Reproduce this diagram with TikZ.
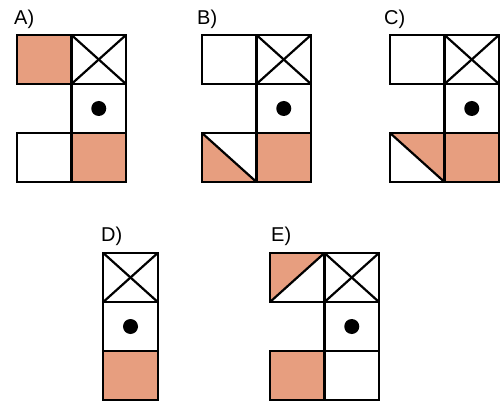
\documentclass[tikz,border=0pt]{standalone}
\usepackage{fontspec}
\setmainfont{Liberation Sans}
\definecolor{salmon}{RGB}{231,158,127}
\begin{document}
\begin{tikzpicture}[
    x=1pt, y=-1pt,
    cell/.style={rectangle, draw, line width=2.2pt, minimum width=54.5pt, minimum height=49pt, inner sep=0pt, outer sep=0pt},
    fullbox/.style={cell, fill=salmon},
    crossbox/.style={cell, path picture={
        \draw[line width=2.2pt] (path picture bounding box.north west) -- (path picture bounding box.south east)
                              (path picture bounding box.south west) -- (path picture bounding box.north east);}},
    dotbox/.style={cell, path picture={\fill (path picture bounding box.center) circle (7.5pt);}},
    loleft/.style={cell, path picture={
        \fill[salmon] (path picture bounding box.north west) -- (path picture bounding box.south west) -- (path picture bounding box.south east) -- cycle;
        \draw[line width=2.2pt] (path picture bounding box.north west) -- (path picture bounding box.south east);}},
    upright/.style={cell, path picture={
        \fill[salmon] (path picture bounding box.north west) -- (path picture bounding box.north east) -- (path picture bounding box.south east) -- cycle;
        \draw[line width=2.2pt] (path picture bounding box.north west) -- (path picture bounding box.south east);}},
    upleft/.style={cell, path picture={
        \fill[salmon] (path picture bounding box.north west) -- (path picture bounding box.north east) -- (path picture bounding box.south west) -- cycle;
        \draw[line width=2.2pt] (path picture bounding box.south west) -- (path picture bounding box.north east);}},
    option/.style={anchor=west, inner sep=0pt, font=\fontsize{20}{24}\selectfont},
]
    \useasboundingbox (0,0) rectangle (500,403);

    % Option A
    \node[option] (labA) at (14,19) {A)};
    \node[fullbox] (a1) at (44.25,59.5) {};
    \node[crossbox] (a2) at (98.75,59.5) {};
    \node[dotbox] (a3) at (98.75,108.5) {};
    \node[cell] (a4) at (44.25,157.5) {};
    \node[fullbox] (a5) at (98.75,157.5) {};

    % Option B
    \node[option] (labB) at (197,19) {B)};
    \node[cell] (b1) at (229.25,59.5) {};
    \node[crossbox] (b2) at (283.75,59.5) {};
    \node[dotbox] (b3) at (283.75,108.5) {};
    \node[loleft] (b4) at (229.25,157.5) {};
    \node[fullbox] (b5) at (283.75,157.5) {};

    % Option C
    \node[option] (labC) at (384,19) {C)};
    \node[cell] (c1) at (417.25,59.5) {};
    \node[crossbox] (c2) at (471.75,59.5) {};
    \node[dotbox] (c3) at (471.75,108.5) {};
    \node[upright] (c4) at (417.25,157.5) {};
    \node[fullbox] (c5) at (471.75,157.5) {};

    % Option D
    \node[option] (labD) at (101,236) {D)};
    \node[crossbox] (d1) at (130.5,277.5) {};
    \node[dotbox] (d2) at (130.5,326.5) {};
    \node[fullbox] (d3) at (130.5,375.5) {};

    % Option E
    \node[option] (labE) at (271,236) {E)};
    \node[upleft] (e1) at (297.25,277.5) {};
    \node[crossbox] (e2) at (351.75,277.5) {};
    \node[dotbox] (e3) at (351.75,326.5) {};
    \node[fullbox] (e4) at (297.25,375.5) {};
    \node[cell] (e5) at (351.75,375.5) {};
\end{tikzpicture}
\end{document}
